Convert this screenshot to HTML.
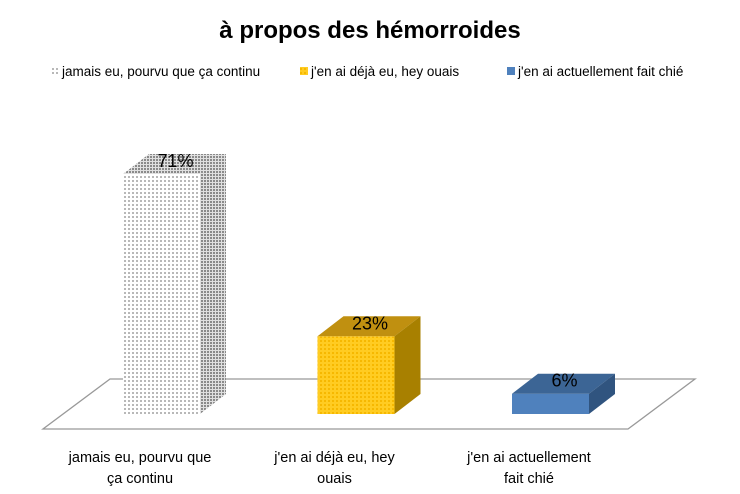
<!DOCTYPE html>
<html><head><meta charset="utf-8"><style>
html,body{margin:0;padding:0;background:#fff;width:740px;height:494px;overflow:hidden}
svg{display:block;font-family:"Liberation Sans",sans-serif}
</style></head><body>
<svg id="chart" width="740" height="494" viewBox="0 0 740 494">
<defs>
<pattern id="dots" width="4" height="4" patternUnits="userSpaceOnUse"><rect width="4" height="4" fill="#fff"/><rect width="2" height="2" fill="#b8b8b8"/></pattern>
<pattern id="dotsDark" width="3" height="3" patternUnits="userSpaceOnUse"><rect width="3" height="3" fill="#e0e0e0"/><rect width="2" height="2" fill="#8a8a8a"/></pattern>
<pattern id="ydots" width="4" height="4" patternUnits="userSpaceOnUse"><rect width="4" height="4" fill="#ffcc22"/><rect width="2" height="2" fill="#f6b800"/></pattern>
</defs>
<text x="370" y="38" text-anchor="middle" font-size="24" font-weight="bold" fill="#000">à propos des hémorroides</text>
<g id="legend"></g>
<polygon points="43,429 628,429 695,379 110,379" fill="#fff" stroke="#999" stroke-width="1.3"/>
<g id="bars"></g>
<g id="labels"></g>
</svg>
<script>
const categories = ["jamais eu, pourvu que ça continu", "j'en ai déjà eu, hey ouais", "j'en ai actuellement fait chié"];
const labelLines = [["jamais eu, pourvu que","ça continu"],["j'en ai déjà eu, hey","ouais"],["j'en ai actuellement","fait chié"]];
const values = [71, 23, 6];
const valueLabels = ["71%", "23%", "6%"];

const NS="http://www.w3.org/2000/svg";
const svg=document.getElementById('chart');
const fills=[["url(#dots)","url(#dotsDark)","url(#dotsDark)"],["url(#ydots)","#c09010","#a88000"],["#4f81bd","#3c6595","#30547f"]];
const baseY=414, pxPer=3.38, barW=77, dx=26, dy=20;
function xScale(i){return 123+i*194.5;}
function yScale(v){return baseY-v*pxPer;}
function mk(tag,attrs,parent){const e=document.createElementNS(NS,tag);for(const k in attrs)e.setAttribute(k,attrs[k]);parent.appendChild(e);return e;}
const bars=document.getElementById('bars');
values.forEach((v,i)=>{
  const x=xScale(i), y=yScale(v);
  const g=mk('g',{},bars);
  
  
  const front=mk('rect',{x:x,y:y,width:barW,height:baseY-y,fill:fills[i][0]},g);
  
  
  const top=mk('polygon',{points:`${x},${y} ${x+barW},${y} ${x+barW+dx},${y-dy} ${x+dx},${y-dy}`,fill:fills[i][1]},g);
  
  
  const side=mk('polygon',{points:`${x+barW},${y} ${x+barW+dx},${y-dy} ${x+barW+dx},${baseY-dy} ${x+barW},${baseY}`,fill:fills[i][2]},g);
  
  
  const t=mk('text',{x:x+barW/2+14,y:y-7,'text-anchor':'middle','font-size':18,fill:'#000'},g);
  t.textContent=valueLabels[i];
  
  
});
const labels=document.getElementById('labels');
labelLines.forEach((lines,i)=>{
  lines.forEach((ln,j)=>{
    const t=mk('text',{x:xScale(i)+17,y:462+j*21,'text-anchor':'middle','font-size':14.5,fill:'#000'},labels);
    t.textContent=ln;
    
    
  });
});
const legend=document.getElementById('legend');
const legX=[51,300,507];
categories.forEach((c,i)=>{
  const r=mk('rect',{x:legX[i],y:67,width:8,height:8,fill:fills[i][0]},legend);
  
  
  const t=mk('text',{x:legX[i]+11,y:76,'font-size':13.5,fill:'#000'},legend);
  t.textContent=c;
  
  
});
</script>
</body></html>
